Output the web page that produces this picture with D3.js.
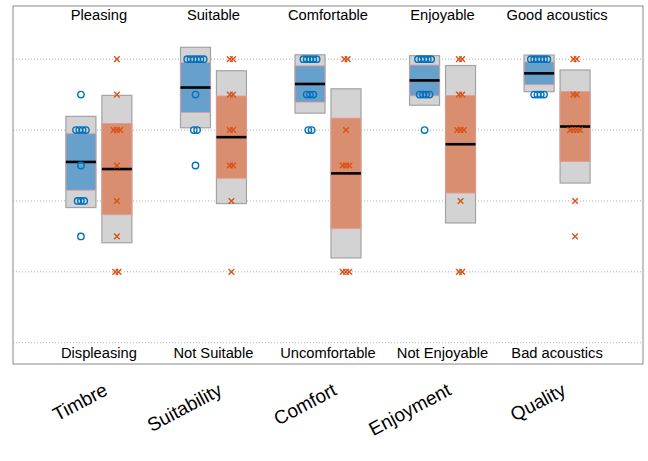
<!DOCTYPE html>
<html>
<head>
<meta charset="utf-8">
<script src="https://cdn.jsdelivr.net/npm/d3@7"></script>
<style>
  html, body { margin: 0; padding: 0; background: #fff; }
  svg { display: block; font-family: "Liberation Sans", Arial, Helvetica, sans-serif; }
</style>
</head>
<body>
<svg id="chart" width="648" height="461"></svg>
<script>
// ---- data ----
const categories = ["Timbre", "Suitability", "Comfort", "Enjoyment", "Quality"];
const topLabels = ["Pleasing", "Suitable", "Comfortable", "Enjoyable", "Good acoustics"];
const bottomLabels = ["Displeasing", "Not Suitable", "Uncomfortable", "Not Enjoyable", "Bad acoustics"];
const gridValues = [1, 2, 3, 4, 5];
const blueRatings = [
  [4.5, 4, 4, 4, 4, 3.5, 3, 3, 3, 2.5],
  [5, 5, 5, 5, 5, 5, 4.5, 4, 4, 3.5],
  [5, 5, 5, 5, 5, 4.5, 4.5, 4.5, 4, 4],
  [5, 5, 5, 5, 5, 4.5, 4.5, 4.5, 4.5, 4],
  [5, 5, 5, 5, 5, 5, 4.5, 4.5, 4.5, 4.5]
];
const orangeRatings = [
  [5, 4.5, 4, 4, 4, 3.5, 3, 2.5, 2, 2],
  [5, 5, 4.5, 4.5, 4, 4, 3.5, 3.5, 3, 2],
  [5, 5, 4, 3.5, 3.5, 3.5, 2, 2, 2],
  [5, 5, 4.5, 4.5, 4, 4, 4, 3, 2, 2],
  [5, 5, 4.5, 4.5, 4, 4, 4, 4, 3, 2.5]
];

// ---- layout ----
const svg = d3.select("#chart");
const pLeft = 13, pRight = 643, pTop = 6, pBottom = 364;
const x = d3.scaleLinear().domain([0.25, 5.75]).range([pLeft, pRight]);
const y = d3.scaleLinear().domain([0.7, 5.75]).range([pBottom, pTop]);
const offset = 0.157, halfW = 0.131;
const jitterStep = 3.3;

const series = [
  { data: blueRatings, side: -1, stroke: "#0072BD", fill: "#67a1cb", kind: "circle" },
  { data: orangeRatings, side: 1, stroke: "#D95319", fill: "#d98f6f", kind: "cross" }
];

// grid lines
svg.append("g").selectAll("line").data(gridValues).join("line")
  .attr("x1", pLeft).attr("x2", pRight)
  .attr("y1", d => y(d)).attr("y2", d => y(d))
  .attr("stroke", "#b0b0b0").attr("stroke-width", 1)
  .attr("stroke-dasharray", "1,2");

function stats(arr) {
  const m = d3.mean(arr), sd = d3.deviation(arr);
  const ci = 1.96 * sd / Math.sqrt(arr.length);
  return { m, sd, ci };
}

const plot = svg.append("g");
series.forEach(s => {
  s.data.forEach((vals, i) => {
    const st = stats(vals);
    const cx = i + 1 + s.side * offset;
    const x0 = x(cx - halfW), x1 = x(cx + halfW);
    const g = plot.append("g");
    // SD box
    g.append("rect")
      .attr("x", x0).attr("width", x1 - x0)
      .attr("y", y(st.m + st.sd)).attr("height", y(st.m - st.sd) - y(st.m + st.sd))
      .attr("fill", "#d3d3d3").attr("stroke", "#a3a3a3").attr("stroke-width", 1.2);
    // 95% CI box
    g.append("rect")
      .attr("x", x0).attr("width", x1 - x0)
      .attr("y", y(st.m + st.ci)).attr("height", y(st.m - st.ci) - y(st.m + st.ci))
      .attr("fill", s.fill).attr("stroke", "#e59a9a").attr("stroke-width", 0.8);
    // mean line
    g.append("line")
      .attr("x1", x0).attr("x2", x1)
      .attr("y1", y(st.m)).attr("y2", y(st.m))
      .attr("stroke", "#000").attr("stroke-width", 2.6);
    // points, spread horizontally where values coincide
    const groups = d3.group(vals, v => v);
    const pts = [];
    groups.forEach((arr, v) => {
      arr.forEach((_, k) => pts.push({ v, dx: (k - (arr.length - 1) / 2) * jitterStep }));
    });
    const pg = g.append("g");
    if (s.kind === "circle") {
      pg.selectAll("circle").data(pts).join("circle")
        .attr("cx", d => x(cx) + d.dx).attr("cy", d => y(d.v)).attr("r", 3.2)
        .attr("fill", "none").attr("stroke", s.stroke).attr("stroke-width", 1.4);
    } else {
      pg.selectAll("path").data(pts).join("path")
        .attr("transform", d => `translate(${x(cx) + d.dx},${y(d.v)})`)
        .attr("d", "M-2.8,-2.8L2.8,2.8M-2.8,2.8L2.8,-2.8")
        .attr("fill", "none").attr("stroke", s.stroke).attr("stroke-width", 1.4);
    }
  });
});

// top and bottom labels inside plot
svg.append("g").selectAll("text").data(topLabels).join("text")
  .attr("x", (d, i) => x(i + 1)).attr("y", 20)
  .attr("text-anchor", "middle").attr("font-size", 14.7).attr("fill", "#000")
  .text(d => d);
svg.append("g").selectAll("text").data(bottomLabels).join("text")
  .attr("x", (d, i) => x(i + 1)).attr("y", 358)
  .attr("text-anchor", "middle").attr("font-size", 14.7).attr("fill", "#000")
  .text(d => d);

// frame
svg.append("rect")
  .attr("x", pLeft).attr("y", pTop).attr("width", pRight - pLeft).attr("height", pBottom - pTop)
  .attr("fill", "none").attr("stroke", "#8a8a8a").attr("stroke-width", 1);

// rotated category labels
svg.append("g").selectAll("text").data(categories).join("text")
  .attr("transform", (d, i) => `translate(${x(i + 1) + 10},${394}) rotate(-28)`)
  .attr("text-anchor", "end").attr("font-size", 19).attr("fill", "#000")
  .text(d => d);
</script>
</body>
</html>
